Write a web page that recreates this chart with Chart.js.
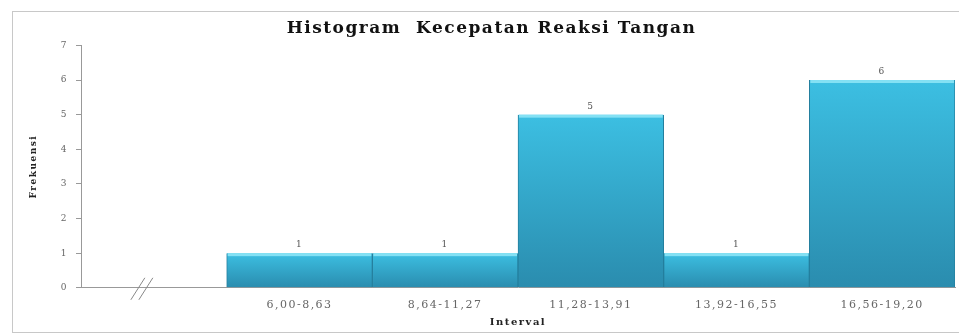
<!DOCTYPE html>
<html>
<head>
<meta charset="utf-8">
<script src="https://cdn.jsdelivr.net/npm/chart.js@4"></script>
<style>
  html, body { margin: 0; padding: 0; background: #fff; }
  #wrap { position: relative; width: 959px; height: 336px; }
  #frame { position: absolute; left: 12px; top: 11px; width: 960px; height: 322px; border: 1px solid #c8c8c8; box-sizing: border-box; }
  canvas { position: absolute; left: 0; top: 0; }
</style>
</head>
<body>
<div id="wrap">
  <div id="frame"></div>
  <canvas id="histChart" width="959" height="336"></canvas>
</div>
<script>
// data
const intervals = ['', '6,00-8,63', '8,64-11,27', '11,28-13,91', '13,92-16,55', '16,56-19,20'];
const frekuensi = [null, 1, 1, 5, 1, 6];
const yTicks = [0, 1, 2, 3, 4, 5, 6, 7];

const serif = "'DejaVu Serif', 'Liberation Serif', serif";

// the original picture is stretched sideways, so widen every text a bit
const wideText = {
    id: 'wideText',
    beforeLayout(chart) { chart.ctx.letterSpacing = '1.5px'; },
    beforeDraw(chart) { chart.ctx.letterSpacing = '1.5px'; }
};

// value labels on top of bars, light top edge, axis break mark
const extras = {
    id: 'extras',
    afterDatasetsDraw(chart) {
        const c = chart.ctx;
        const meta = chart.getDatasetMeta(0);
        c.save();
        meta.data.forEach(function(bar, i) {
            if (frekuensi[i] == null) return;
            const w = bar.width;
            c.fillStyle = 'rgba(140, 228, 246, 0.9)';
            c.fillRect(bar.x - w / 2 + 1, bar.y, w - 2, 3);
        });
        c.font = '9px ' + serif;
        c.fillStyle = '#555';
        c.textAlign = 'center';
        c.textBaseline = 'bottom';
        meta.data.forEach(function(bar, i) {
            if (frekuensi[i] == null) return;
            c.fillText(String(frekuensi[i]), bar.x, bar.y - 4);
        });
        // the "//" break on the x axis
        const xs = chart.scales.x;
        const bx = xs.getPixelForValue(0) - 12;
        const by = chart.chartArea.bottom;
        c.strokeStyle = '#888';
        c.lineWidth = 1;
        [-4, 4].forEach(function(off) {
            c.beginPath();
            c.moveTo(bx + off - 7, by + 12);
            c.lineTo(bx + off + 7, by - 10);
            c.stroke();
        });
        c.restore();
    }
};

const ctx = document.getElementById('histChart');
new Chart(ctx, {
    type: 'bar',
    data: {
        labels: intervals,
        datasets: [{
            label: 'Frekuensi',
            data: frekuensi,
            backgroundColor: function(context) {
                const chart = context.chart;
                const area = chart.chartArea;
                const v = context.raw;
                if (!area || !chart.scales.y || v == null) return '#35afd4';
                const top = chart.scales.y.getPixelForValue(v);
                const g = chart.ctx.createLinearGradient(0, top, 0, area.bottom);
                g.addColorStop(0, '#3cbfe2');
                g.addColorStop(1, '#2a8cae');
                return g;
            },
            borderColor: '#237f9e',
            borderWidth: { top: 0, left: 1, right: 1, bottom: 0 },
            borderSkipped: false,
            barPercentage: 1.0,
            categoryPercentage: 1.0
        }]
    },
    options: {
        responsive: false,
        animation: false,
        layout: { padding: { left: 28, right: 4, top: 4, bottom: 8 } },
        plugins: {
            legend: { display: false },
            tooltip: { enabled: false },
            title: {
                display: true,
                text: 'Histogram  Kecepatan Reaksi Tangan',
                color: '#111',
                font: { family: serif, size: 17, weight: 'bold' },
                padding: { top: 14, bottom: 7 }
            }
        },
        scales: {
            x: {
                grid: { display: false, drawTicks: false },
                border: { display: true, color: '#999' },
                ticks: {
                    color: '#666',
                    font: { family: serif, size: 11 },
                    padding: 11,
                    maxRotation: 0,
                    autoSkip: false
                },
                title: {
                    display: true,
                    text: 'Interval',
                    color: '#222',
                    font: { family: serif, size: 10, weight: 'bold' },
                    padding: { top: -7, bottom: 0 }
                }
            },
            y: {
                min: 0,
                max: 7,
                afterBuildTicks: function(axis) {
                    axis.ticks = yTicks.map(function(v) { return { value: v }; });
                },
                grid: { drawOnChartArea: false, tickLength: 5, color: '#999' },
                border: { display: true, color: '#999' },
                ticks: {
                    color: '#666',
                    font: { family: serif, size: 9 },
                    padding: 8
                },
                title: {
                    display: true,
                    text: 'Frekuensi',
                    color: '#222',
                    font: { family: serif, size: 9, weight: 'bold' },
                    padding: { top: 0, bottom: 14 }
                }
            }
        }
    },
    plugins: [wideText, extras]
});
</script>
</body>
</html>
